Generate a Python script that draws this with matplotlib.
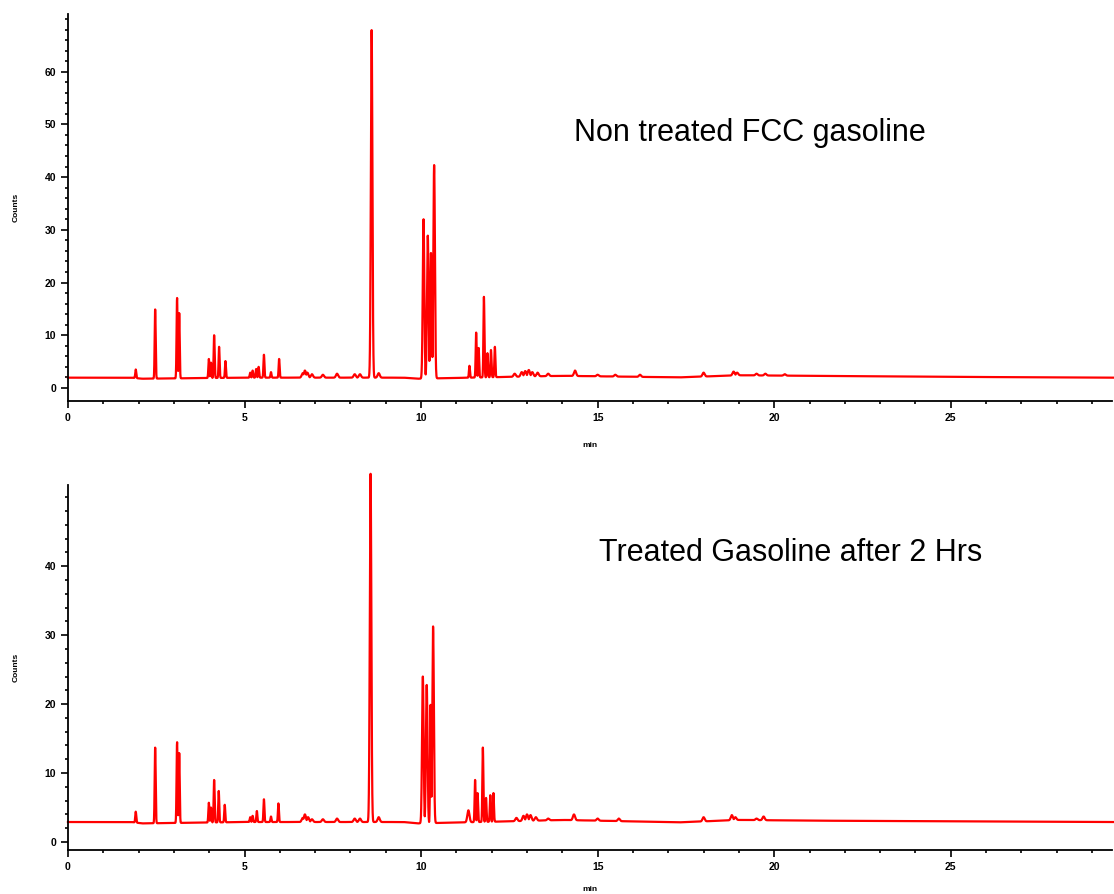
import numpy as np
import matplotlib.pyplot as plt

plt.rcParams['font.family'] = ['Liberation Sans', 'DejaVu Sans']

# baseline drift (min, counts)
base_t = [0, 1.8, 2.1, 5.0, 9.5, 9.9, 12.5, 14.0, 17.3, 19.0, 21.0, 25.0, 29.6]
base_top = [1.95, 1.95, 1.75, 1.95, 1.95, 1.75, 2.1, 2.3, 2.0, 2.4, 2.3, 2.1, 1.95]
base_bot = [2.9, 2.9, 2.7, 2.9, 2.9, 2.7, 3.0, 3.2, 2.85, 3.2, 3.1, 3.0, 2.9]

# peaks: retention time (min), apex height (counts)
rt_top = [1.92, 2.47, 3.09, 3.15, 3.99, 4.05, 4.14, 4.28, 4.46, 5.16, 5.23, 5.33, 5.40,
          5.55, 5.75, 5.98, 6.65, 6.71, 6.78, 6.91, 7.22, 7.62, 8.12, 8.27, 8.60, 8.80,
          10.07, 10.19, 10.28, 10.37, 11.37, 11.56, 11.63, 11.78, 11.88, 11.98, 12.09,
          12.65, 12.85, 12.95, 13.05, 13.15, 13.30, 13.60, 14.36, 15.0, 15.5, 16.2,
          18.0, 18.85, 18.95, 19.5, 19.75, 20.3]
h_top = [3.5, 14.9, 17.1, 14.2, 5.5, 4.8, 10.0, 7.8, 5.1, 2.9, 3.3, 3.6, 4.0,
         6.3, 3.0, 5.5, 2.8, 3.3, 2.9, 2.6, 2.5, 2.7, 2.6, 2.6, 67.9, 2.8,
         32.0, 28.9, 25.6, 42.3, 4.2, 10.5, 7.6, 17.3, 6.6, 7.2, 7.8,
         2.7, 3.0, 3.2, 3.4, 3.0, 2.9, 2.7, 3.3, 2.5, 2.5, 2.5,
         2.9, 3.1, 2.9, 2.7, 2.7, 2.6]

rt_bot = [1.92, 2.47, 3.09, 3.15, 3.99, 4.05, 4.14, 4.27, 4.44, 5.16, 5.23, 5.35,
          5.55, 5.75, 5.96, 6.65, 6.71, 6.80, 6.91, 7.22, 7.62, 8.12, 8.27, 8.57, 8.80,
          10.05, 10.16, 10.27, 10.34, 11.34, 11.53, 11.60, 11.75, 11.84, 11.96, 12.05,
          12.70, 12.90, 13.00, 13.10, 13.25, 13.60, 14.33, 15.0, 15.6,
          18.0, 18.80, 18.90, 19.5, 19.7]
h_bot = [4.4, 13.7, 14.5, 12.9, 5.7, 5.0, 9.0, 7.4, 5.4, 3.6, 3.8, 4.5,
         6.2, 3.7, 5.6, 3.5, 4.0, 3.6, 3.3, 3.3, 3.4, 3.4, 3.4, 53.4, 3.6,
         24.0, 22.8, 19.9, 31.3, 4.6, 9.0, 7.1, 13.7, 6.4, 6.8, 7.1,
         3.5, 3.8, 4.0, 3.9, 3.6, 3.4, 4.0, 3.4, 3.4,
         3.6, 3.9, 3.6, 3.4, 3.7]


def trace(rts, hs, b_y):
    t = np.linspace(0, 29.6, 12000)
    base = np.interp(t, base_t, b_y)
    sig = np.zeros_like(t)
    for rt, h in zip(rts, hs):
        amp = h - np.interp(rt, base_t, b_y)
        if amp > 20:
            w = 0.022
        elif amp > 2 or rt < 6.5:
            w = 0.014
        else:
            w = 0.03
        sig = np.maximum(sig, amp * np.exp(-0.5 * ((t - rt) / w) ** 2))
    return t, base + sig


fig = plt.figure(figsize=(11.14, 8.94), dpi=100)
ax1 = fig.add_axes([0.061, 0.5515, 0.937, 0.433])
ax2 = fig.add_axes([0.061, 0.0492, 0.937, 0.408])

panels = [
    (ax1, rt_top, h_top, base_top, (-2.47, 70.97), 60, 'Non treated FCC gasoline', (0.653, 0.692), 14),
    (ax2, rt_bot, h_bot, base_bot, (-1.16, 51.74), 40, 'Treated Gasoline after 2 Hrs', (0.692, 0.814), 10),
]

for ax, rts, hs, b_y, ylim, ymax_lab, title, pos, pad in panels:
    t, y = trace(rts, hs, b_y)
    ax.plot(t, y, color='#ff0000', linewidth=1.6, clip_on=False)
    ax.set_xlim(0, 29.56)
    ax.set_ylim(*ylim)
    ax.spines['top'].set_visible(False)
    ax.spines['right'].set_visible(False)
    ax.spines['left'].set_linewidth(1.3)
    ax.spines['bottom'].set_linewidth(1.3)
    ax.set_xticks(np.arange(0, 30, 5))
    ax.set_xticks(np.arange(0, 30, 1), minor=True)
    ax.set_yticks(np.arange(0, ymax_lab + 1, 10))
    ax.set_yticks(np.arange(0, ylim[1], 2), minor=True)
    ax.tick_params(which='major', length=5, width=1.2, labelsize=7.5, direction='out')
    ax.tick_params(which='minor', length=2.5, width=1.2, direction='out')
    for lab in ax.get_xticklabels() + ax.get_yticklabels():
        lab.set_fontweight('bold')
    ax.set_xlabel('min', fontsize=6, fontweight='bold', labelpad=pad)
    ax.set_ylabel('Counts', fontsize=6, fontweight='bold', labelpad=18)
    ax.text(pos[0], pos[1], title, transform=ax.transAxes, fontsize=22,
            ha='center', va='center')

fig.savefig('out.png', dpi=100)
